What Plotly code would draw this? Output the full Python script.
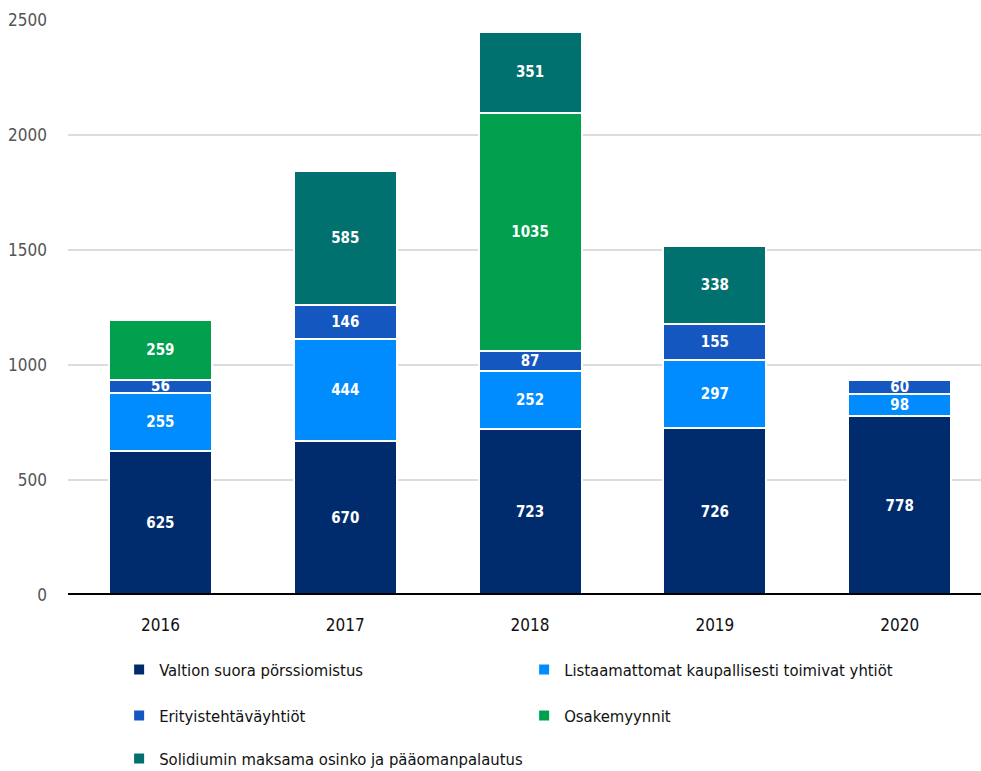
import plotly.graph_objects as go

years = ["2016", "2017", "2018", "2019", "2020"]
valtion = [625, 670, 723, 726, 778]
listaamattomat = [255, 444, 252, 297, 98]
erityis = [56, 146, 87, 155, 60]
osakemyynnit = [259, None, 1035, None, None]
solidium = [None, 585, 351, 338, None]

names = ["Valtion suora pörssiomistus",
         "Listaamattomat kaupallisesti toimivat yhtiöt",
         "Erityistehtäväyhtiöt",
         "Osakemyynnit",
         "Solidiumin maksama osinko ja pääomanpalautus"]
series = [valtion, listaamattomat, erityis, osakemyynnit, solidium]
colors = ["#002B6C", "#008CFF", "#1457C0", "#00A04E", "#00716E"]
legends = ["legend", "legend", "legend2", "legend2", "legend3"]

FONT = "DejaVu Sans Condensed, sans-serif"

fig = go.Figure()
for name, vals, col, lg in zip(names, series, colors, legends):
    fig.add_trace(go.Bar(
        x=years, y=vals, name=name, legend=lg,
        marker=dict(color=col, line=dict(color="white", width=2)),
        text=[str(v) if v else "" for v in vals],
        textposition="inside", insidetextanchor="middle",
        textangle=0, constraintext="none",
        textfont=dict(color="white", size=15, family=FONT, weight="bold"),
        cliponaxis=False,
    ))

legend_common = dict(orientation="h", xanchor="left", yanchor="middle",
                     font=dict(size=16.5, family=FONT, color="#111111"),
                     entrywidth=360, entrywidthmode="pixels",
                     bgcolor="rgba(0,0,0,0)", itemclick=False,
                     traceorder="normal")

fig.update_layout(
    width=981, height=771,
    barmode="stack", bargap=0.443,
    plot_bgcolor="white", paper_bgcolor="white",
    margin=dict(l=68, r=0, t=20, b=176, autoexpand=False),
    font=dict(family=FONT),
    uniformtext=dict(minsize=14, mode="show"),
    xaxis=dict(range=[-0.5, 4.44], showgrid=False, ticks="",
               tickfont=dict(size=17, family=FONT, color="#111111"),
               showline=False, zeroline=False, ticklabelstandoff=18),
    yaxis=dict(range=[0, 2500], dtick=500, showgrid=True,
               gridcolor="#dcdcdc", gridwidth=2,
               tickfont=dict(size=17, family=FONT, color="#555555"),
               zeroline=False, showline=False, ticks="",
               ticklabelstandoff=20),
    legend=dict(x=0.056, y=-0.13, **legend_common),
    legend2=dict(x=0.056, y=-0.21, **legend_common),
    legend3=dict(x=0.056, y=-0.285, **legend_common),
    showlegend=True,
)

fig.add_shape(type="line", xref="paper", yref="y", x0=0, x1=1, y0=0, y1=0,
              line=dict(color="black", width=4), layer="above")

fig.write_html("out.html",
               config={"displayModeBar": False},
               post_script="document.body.style.margin='0';"
                           "document.documentElement.style.overflow='hidden';")
